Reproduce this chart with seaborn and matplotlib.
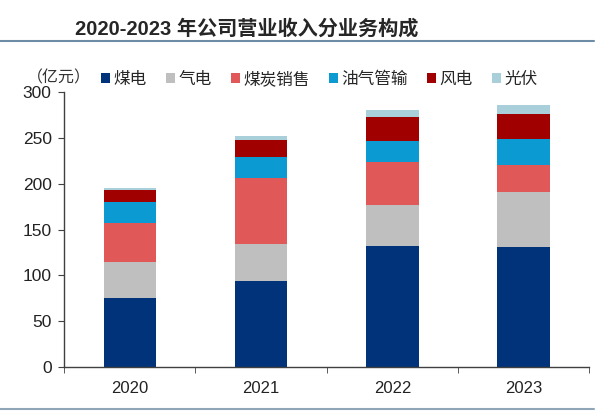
import pandas as pd
import numpy as np
import matplotlib.pyplot as plt
import seaborn as sns
from matplotlib.lines import Line2D
from matplotlib.patches import Patch

# data (亿元)
years = ["2020", "2021", "2022", "2023"]
coal_power = [75.7, 94.3, 132.2, 131.0]
gas_power = [39.3, 40.4, 45.1, 59.8]
coal_sales = [42.3, 71.3, 46.2, 29.2]
oil_gas_pipe = [22.7, 22.7, 23.0, 29.0]
wind_power = [13.0, 18.9, 26.2, 27.0]
solar_power = [2.6, 4.4, 8.3, 9.8]

series = ["煤电", "气电", "煤炭销售", "油气管输", "风电", "光伏"]
colors = ["#00337A", "#BFBFBF", "#E05858", "#0B9BD2", "#A00000", "#A9CFDA"]

df = pd.DataFrame({"year": years, "煤电": coal_power, "气电": gas_power,
                   "煤炭销售": coal_sales, "油气管输": oil_gas_pipe,
                   "风电": wind_power, "光伏": solar_power})
cum = df[series].cumsum(axis=1)
cum["year"] = df["year"]

sns.set_style("white")
plt.rcParams["font.family"] = ["Liberation Sans", "Noto Sans CJK SC", "DejaVu Sans"]

fig = plt.figure(figsize=(6, 4.17), dpi=100)
ax = fig.add_axes([0.107, 0.12, 0.875, 0.659])

# stacked bars: draw cumulative totals from the top layer down
for s, c in reversed(list(zip(series, colors))):
    sns.barplot(data=cum, x="year", y=s, color=c, width=0.4, ax=ax,
                saturation=1, edgecolor="none", linewidth=0)

ax.set_ylim(0, 300)
ax.set_xlim(-0.5, 3.5)
ax.set_yticks(range(0, 301, 50))
ax.set_xlabel("")
ax.set_ylabel("")
sns.despine(ax=ax)
for sp in ["left", "bottom"]:
    ax.spines[sp].set_color("#404040")
    ax.spines[sp].set_linewidth(1)
ax.tick_params(axis="y", length=4, direction="out", color="#404040",
               labelsize=12.5, labelcolor="#222222", left=True, pad=5)
ax.tick_params(axis="x", which="major", length=0, labelsize=12,
               labelcolor="#222222", pad=10)
ax.set_xticks(np.arange(-0.5, 4, 1), minor=True)
ax.tick_params(axis="x", which="minor", length=4, direction="out",
               color="#404040", bottom=True)

# title and rules
fig.text(0.125, 0.93, "2020-2023 年公司营业收入分业务构成", fontsize=14.5,
         fontweight="bold", va="center", ha="left",
         family=["Liberation Sans", "Noto Sans CJK SC"])
fig.add_artist(Line2D([0.0, 0.99], [0.902, 0.902], color="#6F8CA6", lw=1.5))
fig.add_artist(Line2D([0.0, 0.99], [0.018, 0.018], color="#8FA6B8", lw=1.5))

# legend
fig.text(0.045, 0.812, "（亿元）", fontsize=11.5, va="center", ha="left",
         family=["Noto Sans CJK SC"], color="#333333")
handles = [Patch(facecolor=c, edgecolor="none") for c in colors]
fig.legend(handles, series, loc="center left", bbox_to_anchor=(0.168, 0.809),
           ncol=6, frameon=False, handlelength=0.55, handleheight=0.55,
           handletextpad=0.2, columnspacing=1.15, borderpad=0, borderaxespad=0,
           prop={"family": "Noto Sans CJK SC", "size": 12})

fig.savefig("out.png", dpi=100)
